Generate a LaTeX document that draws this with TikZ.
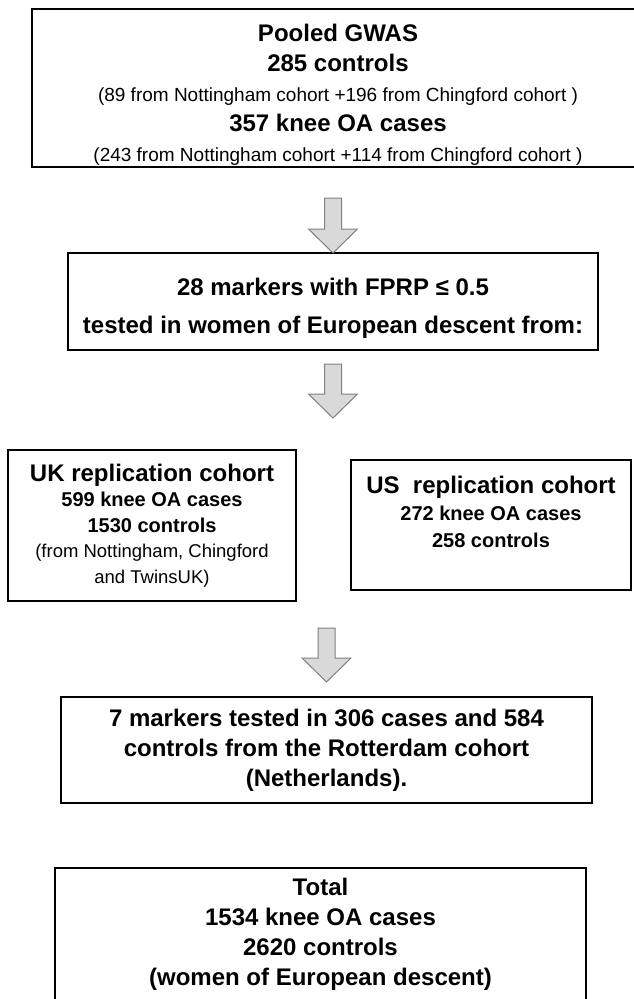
\documentclass[tikz,border=0pt]{standalone}
\usepackage{fontspec}
\setmainfont{Liberation Sans}
\usepackage{xcolor}
\usetikzlibrary{calc, positioning}
\definecolor{ArrowFill}{HTML}{D9D9D9}
\definecolor{ArrowLine}{HTML}{808080}
\newcommand{\hdfont}{\fontsize{24}{30}\selectfont\bfseries}
\newcommand{\subfont}{\fontsize{20}{25.5}\selectfont\bfseries}
\newcommand{\subfontwide}{\fontsize{20}{27}\selectfont\bfseries}
\newcommand{\notefont}{\fontsize{19}{30}\selectfont\mdseries}
\newcommand{\smallnote}{\fontsize{18.5}{25.5}\selectfont\mdseries}
\newcommand{\lift}{\rule{0pt}{30pt}}
\newcommand{\flowarrow}[2]{%
  \draw[blockarrow] ($(#1)+(-8.5,0)$) -- ($(#2)+(-8.5,-24)$) -- ($(#2)+(-24.5,-24)$) -- (#2) -- ($(#2)+(24.5,-24)$) -- ($(#2)+(8.5,-24)$) -- ($(#1)+(8.5,0)$) -- cycle;}

\begin{document}
\begin{tikzpicture}[x=1pt, y=-1pt, box/.style={draw=black, line width=1.6pt, inner sep=0pt, outer sep=0pt, align=center, font=\hdfont}, blockarrow/.style={draw=ArrowLine, fill=ArrowFill, line width=1pt, line join=miter}]

        \useasboundingbox (0,0) rectangle (634,999);

        \node[box, minimum width=612pt, minimum height=158pt] (pool) at (338,88) {\lift Pooled GWAS\\ 285 controls\\ {\notefont (89 from Nottingham cohort +196 from Chingford cohort )}\\ 357 knee OA cases\\ {\notefont (243 from Nottingham cohort +114 from Chingford cohort )}};
        \node[box, minimum width=530pt, minimum height=97pt] (fprp) at (333,301.5) {\lift 28 markers with FPRP ≤ 0.5\\[8pt] tested in women of European descent from:};
        \node[box, font=\subfont, minimum width=288pt, minimum height=151pt] (uk) at (152,525.5) {{\hdfont UK replication cohort}\\ 599 knee OA cases\\ 1530 controls\\ {\smallnote (from Nottingham, Chingford}\\ {\smallnote and TwinsUK)}};
        \node[box, font=\subfontwide, minimum width=280pt, minimum height=130pt] (us) at (491,525) {{\hdfont US~ replication cohort}\\ 272 knee OA cases\\ 258 controls\\ \mbox{}};
        \node[box, minimum width=531pt, minimum height=106pt] (rott) at (326.5,750) {7 markers tested in 306 cases and 584\\ controls from the Rotterdam cohort\\ (Netherlands).};
        \node[box, minimum width=531pt, minimum height=132pt] (total) at (320.5,934) {Total\\ 1534 knee OA cases\\ 2620 controls\\ (women of European descent)};

        \coordinate (a1s) at ($(pool.south -| fprp.north)+(0,31)$);
        \coordinate (a2s) at ($(fprp.south)+(0,14)$);
        \coordinate (a2t) at ($(fprp.south)+(0,68)$);
        \coordinate (a3s) at ($(uk.south -| rott.north)+(0,27)$);
        \coordinate (a3t) at ($(rott.north)+(0,-15)$);

        \flowarrow{a1s}{fprp.north}
        \flowarrow{a2s}{a2t}
        \flowarrow{a3s}{a3t}

    \end{tikzpicture}
\end{document}
